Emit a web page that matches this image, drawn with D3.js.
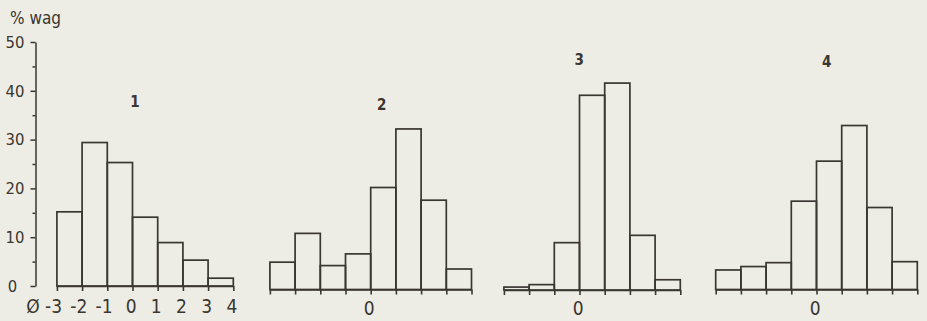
<!DOCTYPE html>
<html>
<head>
<meta charset="utf-8">
<script src="https://cdn.jsdelivr.net/npm/d3@7"></script>
<style>
  body { margin: 0; background: #eeede5; }
  svg { display: block; }
  text { font-family: "DejaVu Sans Condensed", "DejaVu Sans", sans-serif; fill: #3a3631; }
</style>
</head>
<body>
<svg id="chart" width="927" height="321"></svg>
<script>
// percentages by weight per phi class
var panelNames = ['1', '2', '3', '4']
var binStart = [-3, -4, -3, -4]
var sample1 = [15.2, 29.4, 25.3, 14.1, 8.9, 5.3, 1.6]
var sample2 = [5.6, 11.5, 4.9, 7.3, 20.9, 32.9, 18.3, 4.2]
var sample3 = [0.6, 1.1, 9.7, 39.9, 42.4, 11.2, 2.1]
var sample4 = [4.0, 4.7, 5.5, 18.1, 26.3, 33.6, 16.8, 5.7]
var samples = [sample1, sample2, sample3, sample4]
var yTicks = [0, 10, 20, 30, 40, 50]
var yMinorTicks = [5, 15, 25, 35, 45]
var xTickLabels1 = ['-3', '-2', '-1', '0', '1', '2', '3', '4']

///////////////////////////////

var ink = '#3a3631'
var unit = 25.2      // px per phi unit
var plotH = 244      // px for 0..50 %
// where phi = 0 sits, where the baseline sits, where the number goes
var layout = [
    {x0: 132.5, base: 286,   lx: 135,   ly: 102},
    {x0: 370.7, base: 289.5, lx: 381.7, ly: 105},
    {x0: 579.5, base: 290,   lx: 579.3, ly: 60},
    {x0: 816.5, base: 289.5, lx: 826.7, ly: 62}
]

var svg = d3.select('#chart')

svg.append('text')
    .attr('x', 10).attr('y', 24)
    .style('font-size', '17px')
    .text('% wag')

// y axis, only on the first panel
var y1 = d3.scaleLinear().domain([0, 50]).range([layout[0].base, layout[0].base - plotH])

var gy = svg.append('g').attr('transform', 'translate(35.5,0)')
gy.call(d3.axisLeft(y1).tickValues(yTicks).tickSize(5).tickSizeOuter(0).tickPadding(6))
gy.append('g').call(d3.axisLeft(y1).tickValues(yMinorTicks).tickSize(3).tickFormat(''))
gy.selectAll('path, line').attr('stroke', ink).attr('stroke-width', 1.5)
gy.selectAll('text').style('font-size', '16.5px').attr('fill', ink)
gy.selectAll('.domain').filter(function(d, i){ return i > 0 }).remove()
// the hand-lettered 0 sits a little further left
gy.selectAll('.tick text').filter(function(d){ return d == 0 }).attr('dx', '-0.45em')

// the phi sign in front of the first x labels
svg.append('text')
    .attr('x', 33).attr('y', 313)
    .attr('text-anchor', 'middle')
    .style('font-size', '19px')
    .text('\u00d8')

function drawPanel(k){
    var lay = layout[k]
    var vals = samples[k]
    var start = binStart[k]
    var end = start + vals.length

    var x = d3.scaleLinear()
        .domain([start, end])
        .range([lay.x0 + start * unit, lay.x0 + end * unit])
    var y = d3.scaleLinear().domain([0, 50]).range([lay.base, lay.base - plotH])

    var g = svg.append('g')

    g.selectAll('rect')
        .data(vals)
        .enter()
        .append('rect')
        .attr('x', function(d, i){ return x(start + i) })
        .attr('width', function(d, i){ return x(start + i + 1) - x(start + i) })
        .attr('y', function(d){ return y(d) })
        .attr('height', function(d){ return y(0) - y(d) })
        .attr('fill', 'none')
        .attr('stroke', ink)
        .attr('stroke-width', 1.7)

    var edges = d3.range(start, end + 1)
    var ax = d3.axisBottom(x)
        .tickValues(edges)
        .tickSize(5)
        .tickSizeOuter(0)
        .tickPadding(k == 0 ? 9 : 7)
        .tickFormat(function(d){
            if (k == 0) return xTickLabels1[d - start]
            return d == 0 ? '0' : ''
        })

    var gx = g.append('g')
        .attr('transform', 'translate(0,' + lay.base + ')')
        .call(ax)
    gx.selectAll('path, line').attr('stroke', ink).attr('stroke-width', 1.6)
    gx.selectAll('text')
        .style('font-size', '19px')
        .attr('fill', ink)
        .attr('dx', function(d){ return d < 0 ? '-0.2em' : '-0.1em' })

    g.append('text')
        .attr('x', lay.lx).attr('y', lay.ly)
        .attr('dy', '0.35em')
        .attr('text-anchor', 'middle')
        .style('font-size', '15px')
        .style('font-weight', 'bold')
        .text(panelNames[k])
}

for (var k = 0; k < samples.length; k += 1) {
    drawPanel(k)
}
</script>
</body>
</html>
